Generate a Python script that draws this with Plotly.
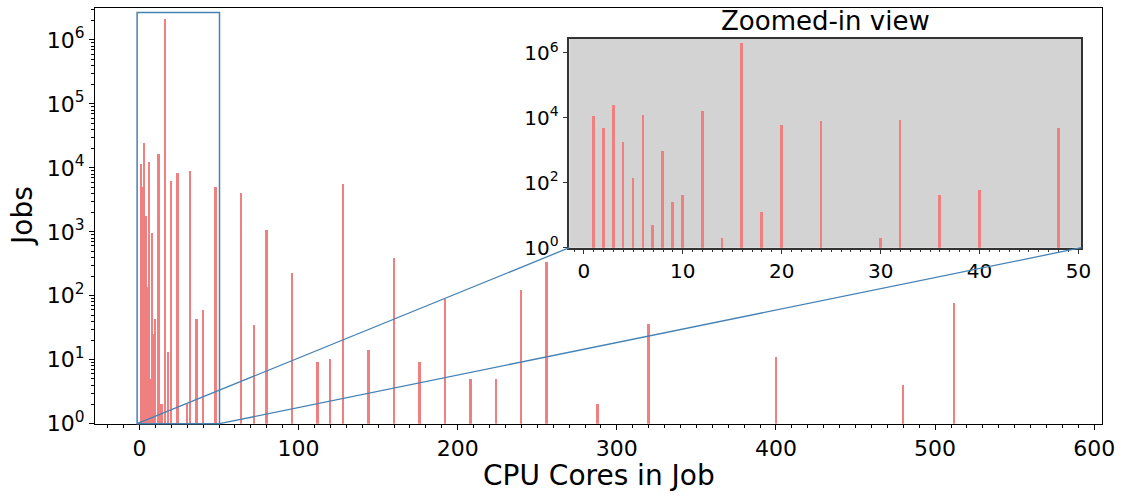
import plotly.graph_objects as go

# ---- data ----
cores = [1, 2, 3, 4, 5, 6, 7, 8, 9, 10, 12, 14, 16, 18, 20, 24, 30, 32, 36, 40, 48,
         64, 72, 80, 96, 112, 120, 128, 144, 160, 176, 192, 208, 224, 240, 256,
         288, 320, 400, 480, 512]
jobs = [11500, 5000, 24600, 1780, 138, 12300, 5, 960, 25, 43, 16300, 2, 2080000, 13,
        6200, 8200, 2, 8700, 43, 60, 5000,
        4000, 35, 1070, 225, 9, 10, 5500, 14, 390, 9, 89, 5, 5, 121, 340,
        2, 36, 11, 4, 77]
main_xticks = [0, 100, 200, 300, 400, 500, 600]
inset_xticks = [0, 10, 20, 30, 40, 50]
main_yexp = [0, 1, 2, 3, 4, 5, 6]
inset_yexp = [0, 2, 4, 6]

W, H = 1131, 500
FONT = "DejaVu Sans"
BAR = "#F08080"
EDGE = "#4682B4"

# layout geometry (pixels)
M_L, M_R, M_T, M_B = 96, 1115, 8.5, 435
I_L, I_R, I_T, I_B = 576, 1094, 40, 254.3

main_xr = [-28, 605]
main_yr = [0, 6.495]
inset_xr = [-1.47, 50.3]
inset_yr = [0, 6.43]


def px2paper_x(px):
    return px / W


def px2paper_y(py):
    return 1 - py / H


def main_to_px(x, ylog):
    px = M_L + (x - main_xr[0]) / (main_xr[1] - main_xr[0]) * (M_R - M_L)
    py = M_B - (ylog - main_yr[0]) / (main_yr[1] - main_yr[0]) * (M_B - M_T)
    return px, py


ins_x = [c for c in cores if c <= 50]
ins_y = [j for c, j in zip(cores, jobs) if c <= 50]

fig = go.Figure()
fig.add_trace(go.Bar(x=cores, y=jobs, width=1.2, marker=dict(color=BAR, line=dict(width=0)),
                     xaxis="x", yaxis="y", showlegend=False))
fig.add_trace(go.Bar(x=ins_x, y=ins_y, width=0.27, marker=dict(color=BAR, line=dict(width=0)),
                     xaxis="x2", yaxis="y2", showlegend=False))

tickfont_main = dict(family=FONT, size=22, color="black")
tickfont_inset = dict(family=FONT, size=20, color="black")

fig.update_layout(
    width=W, height=H, autosize=False,
    margin=dict(l=0, r=0, t=0, b=0, pad=0),
    paper_bgcolor="white", plot_bgcolor="rgba(0,0,0,0)",
    font=dict(family=FONT, color="black"),
    bargap=0,
    xaxis=dict(domain=[px2paper_x(M_L), px2paper_x(M_R)], range=main_xr,
               anchor="y", showline=True, mirror=True, linecolor="black", linewidth=1,
               ticks="outside", ticklen=5, tickcolor="black", tickvals=main_xticks,
               tickfont=tickfont_main, showgrid=False, zeroline=False,
               minor=dict(ticks="outside", ticklen=3, tickcolor="black", dtick=10, showgrid=False)),
    yaxis=dict(domain=[px2paper_y(M_B), px2paper_y(M_T)], type="log", range=main_yr,
               anchor="x", showline=True, mirror=True, linecolor="black", linewidth=1,
               ticks="outside", ticklen=5, tickcolor="black",
               tickvals=[10 ** e for e in main_yexp],
               ticktext=["10<sup>%d</sup>" % e for e in main_yexp],
               tickfont=tickfont_main, showgrid=False, zeroline=False,
               minor=dict(ticks="outside", ticklen=3, tickcolor="black", dtick="D1", showgrid=False)),
    xaxis2=dict(domain=[px2paper_x(I_L), px2paper_x(I_R)], range=inset_xr,
                anchor="y2", showline=True, mirror=True, linecolor="#333333", linewidth=1.5,
                ticks="outside", ticklen=5, tickcolor="#333333", tickvals=inset_xticks,
                tickfont=tickfont_inset, showgrid=False, zeroline=False,
                minor=dict(ticks="outside", ticklen=3, tickcolor="#333333", dtick=1, showgrid=False)),
    yaxis2=dict(domain=[px2paper_y(I_B), px2paper_y(I_T)], type="log", range=inset_yr,
                anchor="x2", showline=True, mirror=True, linecolor="#333333", linewidth=1.5,
                ticks="outside", ticklen=5, tickcolor="#333333",
                tickvals=[10 ** e for e in inset_yexp],
                ticktext=["10<sup>%d</sup>" % e for e in inset_yexp],
                tickfont=tickfont_inset, showgrid=False, zeroline=False),
)

# inset background
fig.add_shape(type="rect", xref="paper", yref="paper",
              x0=px2paper_x(I_L), x1=px2paper_x(I_R), y0=px2paper_y(I_B), y1=px2paper_y(I_T),
              fillcolor="#D3D3D3", line=dict(width=0), layer="below")

# indicator rectangle on main axes (derived from inset ranges)
rx0, ry0 = main_to_px(inset_xr[0], inset_yr[0])
rx1, ry1 = main_to_px(inset_xr[1], inset_yr[1])
fig.add_shape(type="rect", xref="paper", yref="paper",
              x0=px2paper_x(rx0), x1=px2paper_x(rx1), y0=px2paper_y(ry0), y1=px2paper_y(ry1),
              line=dict(color=EDGE, width=1.5), fillcolor="rgba(0,0,0,0)")
# connector lines
fig.add_shape(type="line", xref="paper", yref="paper",
              x0=px2paper_x(rx0), y0=px2paper_y(ry0), x1=px2paper_x(I_L), y1=px2paper_y(I_B),
              line=dict(color=EDGE, width=1.3))
fig.add_shape(type="line", xref="paper", yref="paper",
              x0=px2paper_x(rx1), y0=px2paper_y(ry0), x1=px2paper_x(I_R), y1=px2paper_y(I_B),
              line=dict(color=EDGE, width=1.3))

# titles
fig.add_annotation(text="CPU Cores in Job", xref="paper", yref="paper",
                   x=px2paper_x((M_L + M_R) / 2), y=px2paper_y(488), showarrow=False,
                   font=dict(family=FONT, size=28, color="black"), xanchor="center", yanchor="middle")
fig.add_annotation(text="Jobs", xref="paper", yref="paper", textangle=-90,
                   x=px2paper_x(22), y=px2paper_y(222), showarrow=False,
                   font=dict(family=FONT, size=28, color="black"), xanchor="center", yanchor="middle")
fig.add_annotation(text="Zoomed-in view", xref="paper", yref="paper",
                   x=px2paper_x((I_L + I_R) / 2), y=px2paper_y(22), showarrow=False,
                   font=dict(family=FONT, size=26, color="black"), xanchor="center", yanchor="middle")

fig.write_html("out.html")
